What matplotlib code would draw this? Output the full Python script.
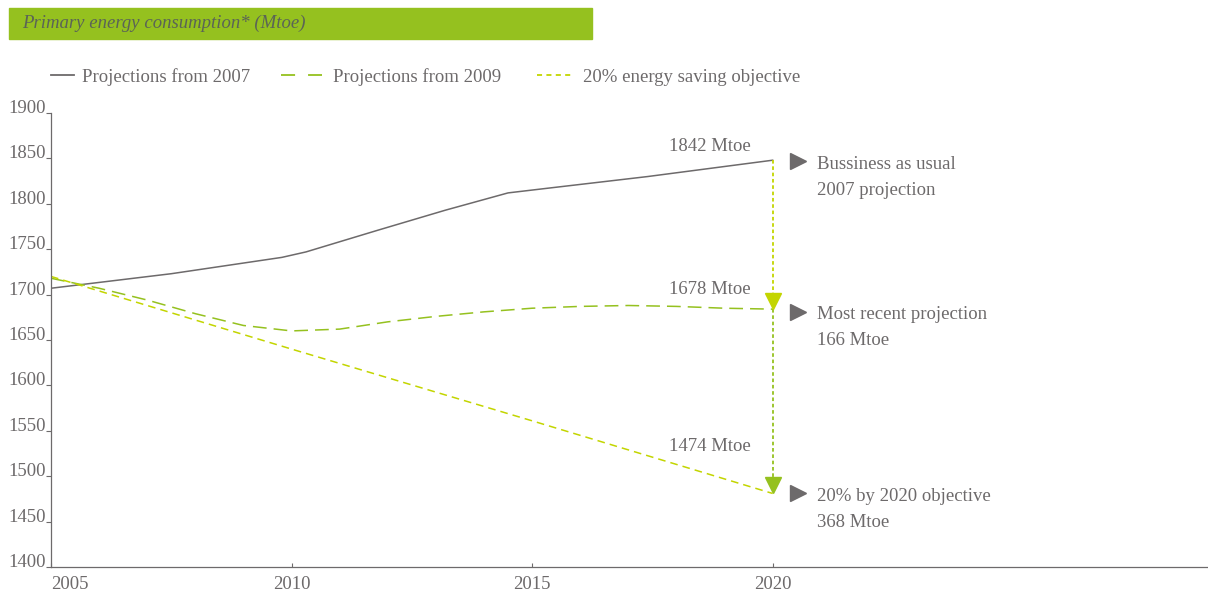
import matplotlib.pyplot as plt
import matplotlib.patches as patches
from matplotlib.lines import Line2D

# data
years_2007 = [2005, 2007.5, 2009.8, 2010.3, 2011.8, 2013.2, 2014.5, 2015.3, 2017.4, 2020]
proj_2007 = [1707, 1723, 1741, 1747, 1771, 1793, 1812, 1817, 1830, 1848]

years_2009 = [2005, 2006, 2007, 2008, 2009, 2010, 2011, 2012, 2013, 2014, 2015, 2016, 2017, 2018, 2019, 2020]
proj_2009 = [1718, 1707, 1694, 1679, 1666, 1660, 1662, 1670, 1676, 1681, 1685, 1687, 1688, 1687, 1685, 1684]

years_obj = [2005, 2010, 2015, 2020]
objective = [1720, 1640, 1561, 1481]

value_labels = ['1842 Mtoe', '1678 Mtoe', '1474 Mtoe']
value_label_y = [1858, 1701, 1528]
side_line1 = ['Bussiness as usual', 'Most recent projection', '20% by 2020 objective']
side_line2 = ['2007 projection', '166 Mtoe', '368 Mtoe']
side_y = [1847, 1681, 1481]

legend_names = ['Projections from 2007', 'Projections from 2009', '20% energy saving objective']

gray = '#6d6a6b'
green = '#95c11f'
yellow = '#c3d500'
fs = 13.5

plt.rcParams['font.family'] = ['Liberation Serif', 'DejaVu Serif']

fig = plt.figure(figsize=(12.08, 5.91), dpi=100)
W, H = 1208, 591
ax = fig.add_axes([51 / W, 24 / H, 1 - 51 / W, 454 / H])

ax.plot(years_2007, proj_2007, color=gray, lw=1.1)
ax.plot(years_2009, proj_2009, color=green, lw=1.1, dashes=(9, 4.6))
ax.plot(years_obj, objective, color=yellow, lw=1.1, dashes=(5, 3.3))

# vertical arrows at 2020
x_end = years_2007[-1]
ax.plot([x_end, x_end], [proj_2007[-1], proj_2009[-1] + 12], color=yellow, lw=1.3, ls=(0, (2, 1.5)))
ax.plot([x_end, x_end], [proj_2009[-1], objective[-1] + 12], color=green, lw=1.3, ls=(0, (2, 1.5)))
ax.plot([x_end], [proj_2009[-1] + 9], marker='v', color=yellow, ms=11, ls='none')
ax.plot([x_end], [objective[-1] + 9], marker='v', color=green, ms=11, ls='none')

for ly, txt in zip(value_label_y, value_labels):
    ax.text(2019.55, ly, txt, ha='right', va='baseline', color=gray, fontsize=fs)

for y, t1, t2 in zip(side_y, side_line1, side_line2):
    ax.plot([2020.53], [y], marker='>', color=gray, ms=11, ls='none')
    ax.text(2020.93, y - 3.3, t1, ha='left', va='center', color=gray, fontsize=fs)
    ax.text(2020.93, y - 3.3 - 28.6, t2, ha='left', va='center', color=gray, fontsize=fs)

ax.set_xlim(2005, 2029.05)
ax.set_ylim(1400, 1900)
ax.set_yticks(range(1400, 1901, 50))
ax.set_xticks([2005, 2010, 2015, 2020])
for s in ['top', 'right']:
    ax.spines[s].set_visible(False)
for s in ['left', 'bottom']:
    ax.spines[s].set_color(gray)
    ax.spines[s].set_linewidth(0.9)
ax.tick_params(axis='y', colors=gray, labelsize=fs, length=3.6, width=0.8, pad=0)
ax.tick_params(axis='x', colors=gray, labelsize=fs, direction='in', length=3, width=0.8, pad=6.5)
ax.get_xticklabels()[0].set_horizontalalignment('left')
for t in ax.get_yticklabels():
    t.set_verticalalignment('baseline')

# title bar
fig.patches.append(patches.Rectangle((9 / W, 1 - 39 / H), 583 / W, 31 / H,
                                     transform=fig.transFigure, color=green, zorder=0))
fig.text(22 / W, 1 - 23.5 / H, 'Primary energy consumption* (Mtoe)', style='italic',
         color='#5b6456', fontsize=fs, va='center', ha='left')

# legend, drawn by hand so each sample has its own length
ly = 1 - 75 / H
fig.add_artist(Line2D([51 / W, 74 / W], [ly, ly], color=gray, lw=1.3))
fig.add_artist(Line2D([281 / W, 322 / W], [ly, ly], color=green, lw=1.3, dashes=(7.8, 7.2)))
fig.add_artist(Line2D([537 / W, 571 / W], [ly, ly], color=yellow, lw=1.3, dashes=(2.8, 2.4)))
for x, name in zip([82, 333, 583], legend_names):
    fig.text(x / W, ly - 2 / H, name, color=gray, fontsize=fs, va='center', ha='left')

fig.savefig('out.png', dpi=100)
